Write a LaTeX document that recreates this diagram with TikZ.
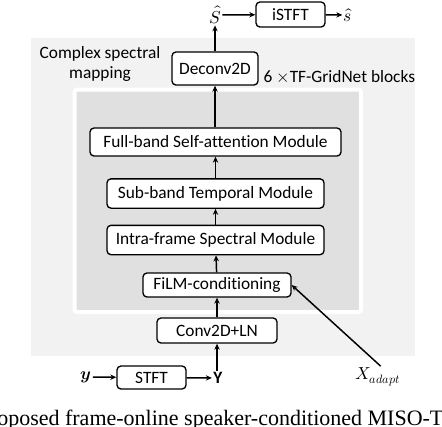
\documentclass[tikz,border=0pt]{standalone}
\usepackage{fontspec}
\usepackage{unicode-math}
\setmainfont{Carlito}[Ligatures=CommonOff]
\setmathfont{Latin Modern Math}
\newfontfamily\capfont{Liberation Serif}
\usepackage{xcolor}
\usepackage{tikz}
\usetikzlibrary{calc,positioning,arrows.meta}
\definecolor{figOuter}{HTML}{F2F2F2}
\definecolor{figInner}{HTML}{E0E0E0}
\definecolor{figLine}{HTML}{000000}

\begin{document}
\begin{tikzpicture}[
  x=0.75pt, y=-0.75pt,
  every node/.style={font=\fontsize{13}{15}\selectfont},
  blk/.style={draw=figLine, line width=1pt, fill=white, rounded corners=3pt,
              inner sep=2pt},
  lbl/.style={inner sep=1pt},
  arr/.style={-{Stealth[length=4.5pt,width=4pt]}, line width=1.1pt, figLine},
]
\useasboundingbox (0,0) rectangle (442,426);

% Background panels
\fill[figOuter] (31,38) rectangle (415,356);
\draw[white, line width=3pt, fill=figInner, rounded corners=2pt] (74.5,89.5) rectangle (361,312);

% Output side
\node[lbl] (shat) at (215,15) {$\hat{S}$};
\node[blk, minimum width=51.75pt, minimum height=18.75pt] (istft) at (290.5,14.5) {iSTFT};
\node[lbl] (sout) at (348,15) {$\hat{s}$};
\node[blk, minimum width=64.5pt, minimum height=24.75pt] (deconv) at (215,68.5) {Deconv2D};
\node[lbl, align=center] (cplx) at (100,64) {Complex spectral\\mapping};
\node[lbl, anchor=west] (blocks) at (262,77) {6 $\times$TF-GridNet blocks};

% TF-GridNet block
\node[blk, minimum width=188.25pt, minimum height=21pt] (fullband) at (215.5,142) {Full-band Self-attention Module};
\node[blk, minimum width=162.75pt, minimum height=22pt] (subband) at (215.5,193.5) {Sub-band Temporal Module};
\node[blk, minimum width=162.75pt, minimum height=22pt] (intra) at (215.5,240) {Intra-frame Spectral Module};
\node[blk, minimum width=111pt, minimum height=18pt] (film) at (217,285) {FiLM-conditioning};

% Input side
\node[blk, minimum width=90pt, minimum height=18.75pt] (conv) at (217,330.5) {Conv2D+LN};
\node[blk, minimum width=51.75pt, minimum height=17.25pt] (stft) at (151.5,377.5) {STFT};
\node[lbl] (yin) at (86,377) {$\symbfit{y}$};
\node[lbl] (Yspec) at (218,378) {\textbf{Y}};
\node[lbl] (xadapt) at (378,377) {$X_{adapt}$};

% Caption (cut off in the reference)
\node[anchor=base west, inner sep=0pt, font=\capfont\fontsize{16.5}{18}\selectfont] (cap) at (-3,425)
  {oposed frame-online speaker-conditioned MISO-TF-GridNet};

% Arrows
\draw[arr] (yin) -- (stft);
\draw[arr] (stft) -- (Yspec);
\draw[arr] (Yspec.north -| conv) -- (conv);
\draw[arr] (conv) -- (film);
\draw[arr] (film) -- (intra);
\draw[arr] (intra) -- (subband);
\draw[arr] (subband) -- (fullband.south -| subband);
\draw[arr] (fullband.north -| deconv) -- (deconv);
\draw[arr] (deconv) -- (shat);
\draw[arr] (shat) -- (istft);
\draw[arr] (istft) -- (sout);
\draw[arr] ([xshift=2pt]xadapt.north) -- (film.east);

\end{tikzpicture}
\end{document}
